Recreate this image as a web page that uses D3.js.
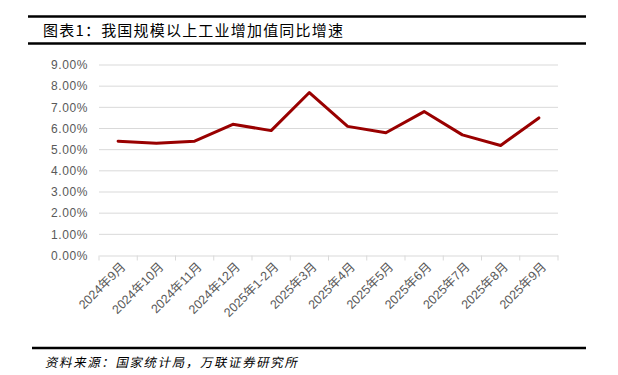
<!DOCTYPE html>
<html>
<head>
<meta charset="utf-8">
<script src="https://cdn.jsdelivr.net/npm/d3@7"></script>
<style>
  body { margin: 0; background: #fff; }
  svg { display: block; }
</style>
</head>
<body>
<div id="chart"></div>
<script>
// data
const months = ["2024年9月", "2024年10月", "2024年11月", "2024年12月", "2025年1-2月", "2025年3月",
  "2025年4月", "2025年5月", "2025年6月", "2025年7月", "2025年8月", "2025年9月"];
const growth = [5.4, 5.3, 5.4, 6.2, 5.9, 7.7, 6.1, 5.8, 6.8, 5.7, 5.2, 6.5];
const yTicks = [0, 1, 2, 3, 4, 5, 6, 7, 8, 9];

const width = 618, height = 375;
const margin = { left: 99, right: 60, top: 65, bottom: 118 };

const svg = d3.select("#chart").append("svg")
  .attr("width", width)
  .attr("height", height);

// header / footer rules
const rule = (y, x1, x2, w) => svg.append("line")
  .attr("x1", x1).attr("x2", x2).attr("y1", y).attr("y2", y)
  .attr("stroke", "#000").attr("stroke-width", w);
rule(16.5, 28, 586, 2.5);
rule(43.5, 28, 586, 2.5);
rule(348, 32, 586, 2.5);

svg.append("text")
  .attr("x", 43).attr("y", 35.5)
  .attr("font-family", "'Noto Sans CJK SC', sans-serif")
  .attr("font-size", 15)
  .attr("font-weight", 400)
  .attr("letter-spacing", 1.2)
  .attr("fill", "#000")
  .text("图表1：我国规模以上工业增加值同比增速");

svg.append("text")
  .attr("x", 45).attr("y", 367)
  .attr("font-family", "'Noto Sans CJK SC', sans-serif")
  .attr("font-size", 12.5)
  .attr("letter-spacing", 1.6)
  .attr("fill", "#000")
  .attr("transform", "skewX(-12) translate(78,0)")
  .text("资料来源：国家统计局，万联证券研究所");

const x = d3.scaleBand()
  .domain(months)
  .range([margin.left, width - margin.right]);

const y = d3.scaleLinear()
  .domain([0, 9])
  .range([height - margin.bottom - 1.5, margin.top]);

// gridlines
svg.append("g")
  .selectAll("line")
  .data(yTicks.filter(d => d > 0))
  .join("line")
  .attr("x1", margin.left).attr("x2", width - margin.right)
  .attr("y1", d => y(d)).attr("y2", d => y(d))
  .attr("stroke", "#d9d9d9").attr("stroke-width", 1);

// y labels
svg.append("g")
  .selectAll("text")
  .data(yTicks)
  .join("text")
  .attr("x", 88)
  .attr("y", d => y(d))
  .attr("dy", "0.36em")
  .attr("text-anchor", "end")
  .attr("font-family", "'Liberation Sans', Arial, sans-serif")
  .attr("font-size", 12)
  .attr("letter-spacing", 0.6)
  .attr("fill", "#595959")
  .text(d => d3.format(".2f")(d) + "%");

// x axis
const xAxis = d3.axisBottom(x)
  .tickSize(0)
  .tickFormat("");
const gx = svg.append("g")
  .attr("transform", `translate(0,${y(0)})`)
  .call(xAxis);
gx.select(".domain").attr("stroke", "#d9d9d9");
gx.selectAll(".tick").remove();

// tick marks at band boundaries
svg.append("g")
  .selectAll("line")
  .data(months.map(m => x(m)).concat([x.range()[1]]))
  .join("line")
  .attr("x1", d => d).attr("x2", d => d)
  .attr("y1", y(0)).attr("y2", y(0) + 5)
  .attr("stroke", "#d9d9d9");

// rotated category labels
svg.append("g")
  .selectAll("text")
  .data(months)
  .join("text")
  .attr("transform", d => `translate(${x(d) + x.bandwidth() / 2 + 5},${y(0) + 9}) rotate(-45)`)
  .attr("text-anchor", "end")
  .attr("dy", "0.35em")
  .attr("font-family", "'Liberation Sans', Arial, 'Noto Sans CJK SC', sans-serif")
  .attr("font-size", 12.5)
  .attr("fill", "#595959")
  .text(d => d);

// the series line
const line = d3.line()
  .x((d, i) => x(months[i]) + x.bandwidth() / 2)
  .y(d => y(d));

svg.append("path")
  .datum(growth)
  .attr("d", line)
  .attr("fill", "none")
  .attr("stroke", "#990000")
  .attr("stroke-width", 3)
  .attr("stroke-linejoin", "round")
  .attr("stroke-linecap", "round");
</script>
</body>
</html>
